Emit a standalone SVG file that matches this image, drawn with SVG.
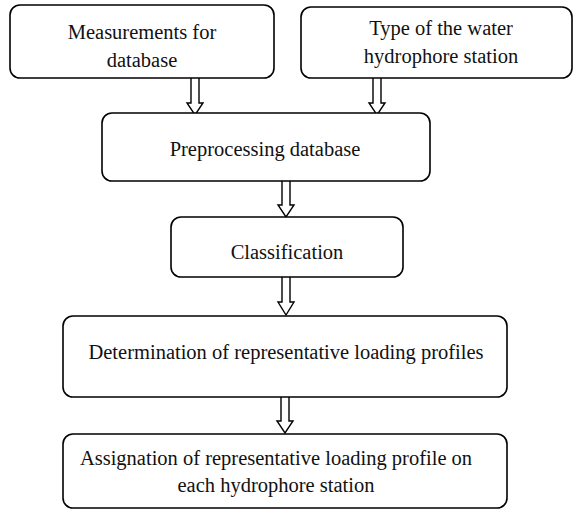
<svg xmlns="http://www.w3.org/2000/svg" width="575" height="510" viewBox="0 0 575 510">
<style>
.box{fill:#fff;stroke:#000;stroke-width:1.6}
.arr{fill:#fff;stroke:#000;stroke-width:1.4;stroke-linejoin:miter}
text{font-family:"Liberation Serif","Times New Roman",serif;font-size:20.5px;fill:#111;text-anchor:middle}
</style>
<rect width="575" height="510" fill="#fff"/>
<g id="connectors">
<path class="arr" d="M191,78 V103 H187 L195,115 L203,103 H199 V78" />
<path class="arr" d="M373,78 V103 H369 L377,115 L385,103 H381 V78" />
<path class="arr" d="M282,181 V205 H278 L286,217 L294,205 H290 V181" />
<path class="arr" d="M282,277 V302 H278 L286,315 L294,302 H290 V277" />
<path class="arr" d="M281,397 V421 H277 L285,433 L293,421 H289 V397" />
</g>
<g id="n1">
<rect class="box" x="10" y="5" width="264" height="73" rx="10"/>
<text x="142" y="39">Measurements for</text>
<text x="142" y="67">database</text>
</g>
<g id="n2">
<rect class="box" x="301" y="7" width="271" height="71" rx="10"/>
<text x="441" y="35">Type of the water</text>
<text x="441" y="63">hydrophore station</text>
</g>
<g id="n3">
<rect class="box" x="102" y="113" width="328" height="68" rx="10"/>
<text x="265" y="156">Preprocessing database</text>
</g>
<g id="n4">
<rect class="box" x="171" y="217" width="232" height="60" rx="10"/>
<text x="287" y="259">Classification</text>
</g>
<g id="n5">
<rect class="box" x="63" y="316" width="444" height="81" rx="10"/>
<text x="286" y="359">Determination of representative loading profiles</text>
</g>
<g id="n6">
<rect class="box" x="63" y="434" width="444" height="74" rx="10"/>
<text x="276" y="465">Assignation of representative loading profile on</text>
<text x="276" y="492">each hydrophore station</text>
</g>
</svg>
